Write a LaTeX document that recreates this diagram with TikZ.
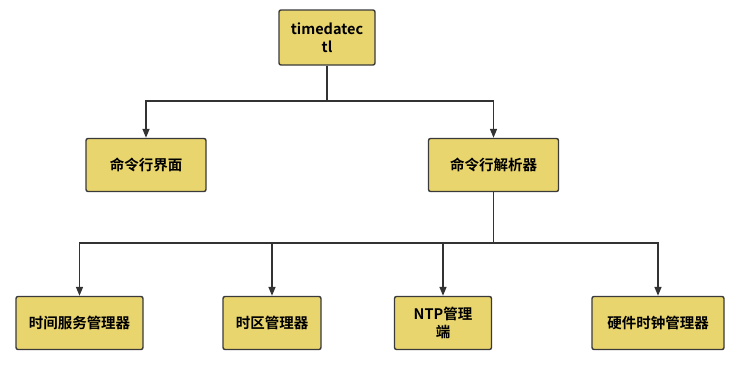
\documentclass[tikz,border=0pt]{standalone}
\usepackage{fontspec}
\setmainfont{Noto Sans CJK SC}[BoldFont={Noto Sans CJK SC Bold}]
\usepackage{xcolor}
\usetikzlibrary{arrows.meta, positioning}
\definecolor{BoxFill}{HTML}{E8D56E}
\definecolor{BoxLine}{HTML}{3A3A3A}
\definecolor{LinkLine}{HTML}{333333}
\tikzset{
    module/.style={draw=BoxLine, fill=BoxFill, line width=1.4pt, rounded corners=2pt,
        minimum height=53pt, align=center, inner sep=2pt,
        font=\fontsize{14.5}{18}\selectfont\bfseries},
    link/.style={draw=LinkLine, line width=1.5pt, -{Triangle[length=9pt, width=7pt]}}
}

\begin{document}
\begin{tikzpicture}[x=1pt, y=-1pt]
    \useasboundingbox (0,0) rectangle (742,365);
    % top
    \node[module, minimum width=96pt, minimum height=55pt] (td) at (327,37.5) {timedatec\\tl};
    % second row
    \node[module, minimum width=120pt] (ui) at (146,165) {命令行界面};
    \node[module, minimum width=130pt] (parser) at (493.5,165) {命令行解析器};
    % bottom row
    \node[module, minimum width=127pt] (timesvc) at (79.5,323) {时间服务管理器};
    \node[module, minimum width=98pt] (tz) at (272,323) {时区管理器};
    \node[module, minimum width=97pt] (ntp) at (443,323) {NTP管理\\端};
    \node[module, minimum width=132pt] (hwclock) at (658,323) {硬件时钟管理器};
    % connectors
    \draw[link] (td.south) -- ++(0,35.5) -| (ui.north);
    \draw[link] (td.south) -- ++(0,35.5) -| (parser.north);
    \foreach \m in {timesvc, tz, ntp, hwclock}
        \draw[link] (parser.south) -- ++(0,51) -| (\m.north);
\end{tikzpicture}
\end{document}
